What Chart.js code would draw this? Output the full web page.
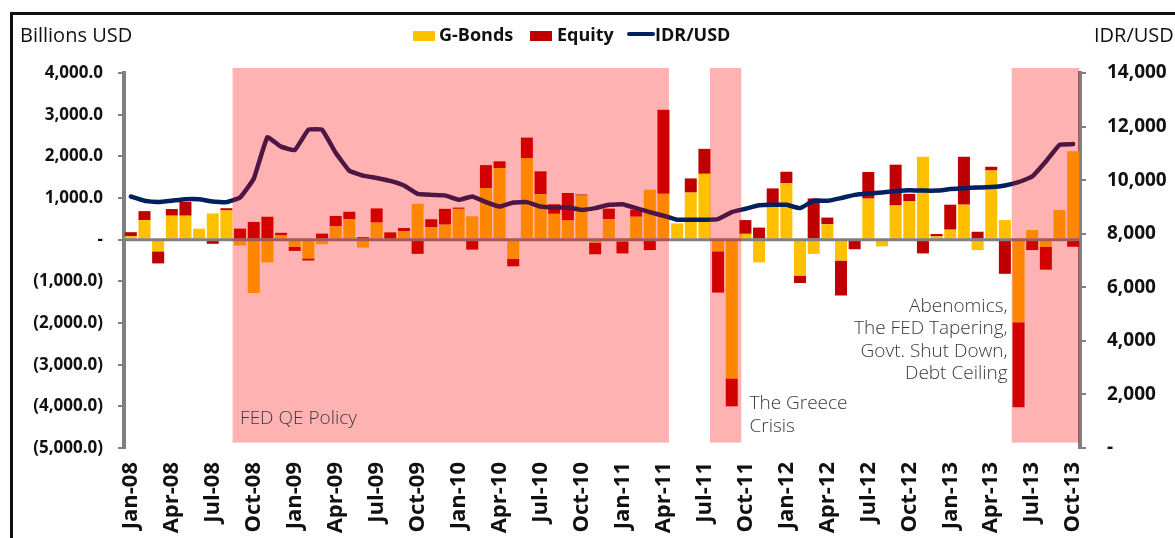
<!DOCTYPE html>
<html>
<head>
<meta charset="utf-8">
<title>Foreign flows into G-Bonds and Equity vs IDR/USD</title>
<script src="https://cdn.jsdelivr.net/npm/chart.js@4.4.1/dist/chart.umd.min.js"></script>
<style>
  body { margin: 0; background: #fff; overflow: hidden; }
  #wrap { position: relative; width: 1175px; height: 538px; overflow: hidden; }
  #frame { position: absolute; left: 10px; top: 12px; width: 1300px; height: 700px; border: 3px solid #111; }
  canvas { position: absolute; left: 0; top: 0; }
  .txt { position: absolute; font-family: "Open Sans", sans-serif; color: #111; white-space: nowrap; line-height: 22px; }
  .ax { font-size: 20px; top: 24px; }
  .lg { font-size: 18px; font-weight: bold; top: 23px; }
  .box { position: absolute; top: 31px; width: 22px; height: 10px; }
</style>
</head>
<body>
<div id="wrap">
  <div id="frame"></div>
  <canvas id="chartCanvasId" width="1175" height="538"></canvas>
  <div class="txt ax" style="left:20px">Billions USD</div>
  <div class="txt ax" style="left:1094px">IDR/USD</div>
  <div class="box" style="left:413px;background:#FFC000"></div>
  <div class="txt lg" style="left:439px">G-Bonds</div>
  <div class="box" style="left:530px;background:#C00000"></div>
  <div class="txt lg" style="left:557px">Equity</div>
  <div class="box" style="left:627px;top:32px;width:28px;height:4px;border-radius:2px;background:#002060"></div>
  <div class="txt lg" style="left:655px">IDR/USD</div>
</div>
<script>
const months = [
  "Jan-08","Feb-08","Mar-08","Apr-08","May-08","Jun-08","Jul-08","Aug-08","Sep-08","Oct-08","Nov-08","Dec-08",
  "Jan-09","Feb-09","Mar-09","Apr-09","May-09","Jun-09","Jul-09","Aug-09","Sep-09","Oct-09","Nov-09","Dec-09",
  "Jan-10","Feb-10","Mar-10","Apr-10","May-10","Jun-10","Jul-10","Aug-10","Sep-10","Oct-10","Nov-10","Dec-10",
  "Jan-11","Feb-11","Mar-11","Apr-11","May-11","Jun-11","Jul-11","Aug-11","Sep-11","Oct-11","Nov-11","Dec-11",
  "Jan-12","Feb-12","Mar-12","Apr-12","May-12","Jun-12","Jul-12","Aug-12","Sep-12","Oct-12","Nov-12","Dec-12",
  "Jan-13","Feb-13","Mar-13","Apr-13","May-13","Jun-13","Jul-13","Aug-13","Sep-13","Oct-13"
];

// billions USD, monthly net flows
const gBonds = [
  80, 470, -280, 575, 575, 265, 630, 700, -140, -1280, -545, 100,
  -170, -450, -110, 320, 490, -190, 410, 0, 200, 860, 300, 360,
  740, 560, 1240, 1720, -460, 1960, 1090, 620, 460, 1060, -70, 490,
  -40, 550, 1200, 1100, 390, 1130, 1580, -280, -3330, 140, -545, 840,
  1360, -860, -340, 370, -500, 0, 985, -160, 820, 920, 1990, 80,
  240, 840, -250, 1660, 470, -1980, 230, -175, 710, 2120
];
const equity = [
  100, 215, -290, 160, 330, 0, -100, 55, 265, 425, 550, 65,
  -100, -50, 145, 250, 180, 60, 340, 175, 80, -340, 190, 380,
  30, -240, 550, 160, -180, 490, 550, 230, 660, 25, -280, 255,
  -290, 170, -250, 2020, 0, 340, 600, -990, -670, 330, 290, 390,
  270, -180, 990, 160, -840, -230, 640, 0, 980, 180, -330, 55,
  600, 1150, 190, 90, -820, -2040, -250, -545, 0, -170
];
const idrUsd = [
  9390, 9230, 9180, 9230, 9290, 9290, 9200, 9180, 9350, 10050, 11600, 11250,
  11120, 11880, 11880, 11020, 10350, 10170, 10080, 9970, 9800, 9490, 9450, 9430,
  9265, 9390, 9180, 9015, 9165, 9180, 9015, 8980, 8980, 8890, 8955, 9080,
  9100, 8955, 8805, 8670, 8520, 8520, 8520, 8545, 8805, 8930, 9060, 9080,
  9080, 8955, 9230, 9230, 9330, 9450, 9500, 9540, 9590, 9625, 9610, 9610,
  9665, 9700, 9725, 9740, 9800, 9925, 10135, 10695, 11320, 11345
];

// shaded episodes, in category units and left-axis values
const episodes = [
  { from: 7.45, to: 39.4, top: 4120, bottom: -4870 },
  { from: 42.4, to: 44.7, top: 4120, bottom: -4870 },
  { from: 64.5, to: 69.45, top: 4120, bottom: -4870 }
];
const notes = [
  { x: 8.0, lines: ["FED QE Policy"], y: [-4300], align: "left" },
  { x: 45.3, lines: ["The Greece", "Crisis"], y: [-3935, -4490], align: "left" },
  { x: 64.2, lines: ["Abenomics,", "The FED Tapering,", "Govt. Shut Down,", "Debt Ceiling"],
    y: [-1600, -2135, -2680, -3215], align: "right" }
];

function fmtLeft(v) {
  if (v === 0) return "-";
  const s = Math.abs(v).toLocaleString("en-US", { minimumFractionDigits: 1, maximumFractionDigits: 1 });
  return v < 0 ? "(" + s + ")" : s;
}
function fmtRight(v) {
  return v === 0 ? "-" : v.toLocaleString("en-US");
}

const overlayPlugin = {
  id: "overlay",
  afterDatasetsDraw(chart) {
    const ctx = chart.ctx;
    const xs = chart.scales.x;
    const ys = chart.scales.y;
    const area = chart.chartArea;
    ctx.save();
    // zero line
    const y0 = ys.getPixelForValue(0);
    ctx.strokeStyle = "#808080";
    ctx.lineWidth = 3;
    ctx.beginPath();
    ctx.moveTo(area.left, y0);
    ctx.lineTo(area.right, y0);
    ctx.stroke();
    // shaded episodes
    ctx.fillStyle = "rgba(255,0,0,0.3)";
    episodes.forEach(e => {
      const x1 = xs.getPixelForValue(e.from);
      const x2 = xs.getPixelForValue(e.to);
      const t = ys.getPixelForValue(e.top);
      const b = ys.getPixelForValue(e.bottom);
      ctx.fillRect(x1, t, x2 - x1, b - t);
    });
    // notes
    ctx.fillStyle = "#3a3a3a";
    ctx.font = "300 19px 'Open Sans', sans-serif";
    ctx.textBaseline = "middle";
    notes.forEach(n => {
      ctx.textAlign = n.align;
      const px = xs.getPixelForValue(n.x);
      n.lines.forEach((line, i) => ctx.fillText(line, px, ys.getPixelForValue(n.y[i])));
    });
    ctx.restore();
  }
};

const tickFont = { family: "'Open Sans', sans-serif", weight: "bold" };

new Chart(document.getElementById("chartCanvasId"), {
  type: "bar",
  data: {
    labels: months,
    datasets: [
      {
        type: "line", label: "IDR/USD", data: idrUsd, yAxisID: "y2", order: 0,
        borderColor: "#002060", borderWidth: 4.5, pointRadius: 0, tension: 0.1,
        borderCapStyle: "round", borderJoinStyle: "round"
      },
      {
        label: "G-Bonds", data: gBonds, yAxisID: "y", order: 1,
        backgroundColor: "#FFC000", barPercentage: 0.88, categoryPercentage: 1
      },
      {
        label: "Equity", data: equity, yAxisID: "y", order: 2,
        backgroundColor: "#C00000", barPercentage: 0.88, categoryPercentage: 1
      }
    ]
  },
  options: {
    responsive: false,
    animation: false,
    layout: { padding: { top: 73, left: 0, right: 0, bottom: 0 } },
    plugins: { legend: { display: false }, tooltip: { enabled: false } },
    scales: {
      x: {
        stacked: true,
        grid: { display: false, drawTicks: false },
        border: { display: false },
        afterFit: s => { s.height = 90; },
        ticks: {
          autoSkip: false, minRotation: 90, maxRotation: 90, padding: 14,
          color: "#111", font: { ...tickFont, size: 22 },
          callback: function (v, i) { return i % 3 === 0 ? this.getLabelForValue(v) : ""; }
        }
      },
      y: {
        position: "left", stacked: true, min: -5000, max: 4000,
        afterFit: s => { s.width = 124; },
        grid: { drawOnChartArea: false, tickLength: 6, color: "#808080", lineWidth: 2 },
        border: { color: "#808080", width: 4 },
        ticks: { stepSize: 1000, padding: 15, color: "#111", font: { ...tickFont, size: 17 }, callback: fmtLeft }
      },
      y2: {
        position: "right", min: 0, max: 14000,
        afterFit: s => { s.width = 95; },
        grid: { drawOnChartArea: false, tickLength: 6, color: "#808080", lineWidth: 2 },
        border: { color: "#808080", width: 4 },
        ticks: { stepSize: 2000, padding: 21, color: "#111", font: { ...tickFont, size: 19 }, callback: fmtRight }
      }
    }
  },
  plugins: [overlayPlugin]
});
</script>
</body>
</html>
